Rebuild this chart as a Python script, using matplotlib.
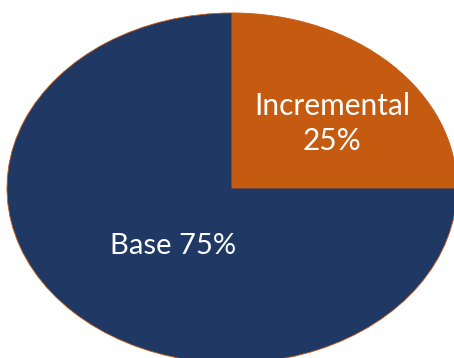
import matplotlib.pyplot as plt

labels = ["Incremental", "Base"]
shares = [25, 75]
colors = ["#C55A11", "#203864"]

fig = plt.figure(figsize=(4.54, 3.58), dpi=100)
ax = fig.add_axes([0, 0, 1, 1])

wedges, _ = ax.pie(shares, colors=colors, startangle=90, counterclock=False,
                   radius=1, center=(0, 0),
                   wedgeprops=dict(edgecolor="#C55A11", linewidth=0.6))

# the chart is stretched into an ellipse, so no equal aspect
ax.set_aspect("auto")
ax.set_xlim(-1.031, 0.987)
ax.set_ylim(-0.971, 1.074)
ax.axis("off")

ax.text(0.444, 0.37, f"{labels[0]}\n{shares[0]}%", color="white",
        ha="center", va="center", fontsize=21.5, family="Lato", linespacing=1.3)
ax.text(-0.262, -0.331, f"{labels[1]} {shares[1]}%", color="white",
        ha="center", va="center", fontsize=21, family="Lato")

fig.savefig("out.png", dpi=100)
